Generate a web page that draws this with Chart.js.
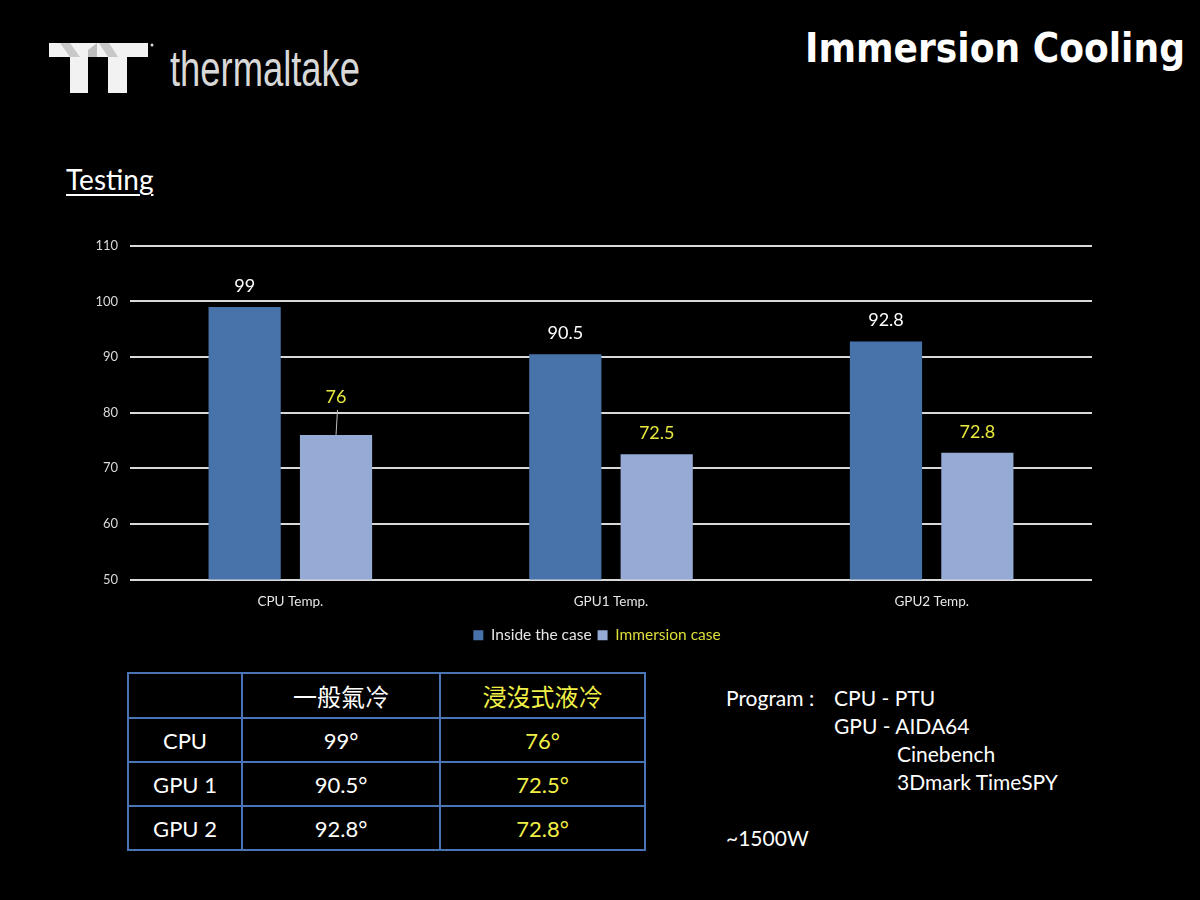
<!DOCTYPE html>
<html>
<head>
<meta charset="utf-8">
<script src="https://cdn.jsdelivr.net/npm/chart.js@4.4.1/dist/chart.umd.min.js"></script>
<style>
  html, body { margin:0; padding:0; background:#000; width:1200px; height:900px; overflow:hidden;
    font-family: Lato, "Noto Sans", sans-serif; color:#fff; }
  .abs { position:absolute; }
  #testing { left:66px; top:162px; font-size:28px; text-decoration:underline; text-underline-offset:4px; text-decoration-thickness:2px; }
  #chartBox { left:0; top:226px; width:1200px; height:427px; }
  table { position:absolute; left:127px; top:672px; border-collapse:collapse; }
  td { border:2px solid #4a74b5; text-align:center; padding:0; font-size:22px; height:42px; }
  td.h { font-family:"Noto Sans CJK TC", sans-serif; font-size:24px; }
  .y { color:#f0f046; }
  .prog { font-size:21px; white-space:nowrap; }
</style>
</head>
<body>
<svg class="abs" style="left:0;top:0" width="1200" height="120">
  <!-- logo -->
  <polygon points="49,43 97,43 97,57 88,57 88,93 70,93 70,57 49,57" fill="#f2f2f2"/>
  <polygon points="60,43 70,43 80,57 70,57" fill="#c8c8c8"/>
  <polygon points="97,43 148,43 148,57 127,57 127,93 108,93 108,57 97,57" fill="#f2f2f2"/>
  <polygon points="99,43 109,43 118,57 108,57" fill="#c8c8c8"/>
  <polygon points="88,57 97,57 97,43 88,50" fill="#bdbdbd"/>
  <circle cx="152" cy="45" r="1.5" fill="#ddd"/>
  <text x="170" y="86" font-family="Liberation Sans Narrow, Liberation Sans" font-size="50" fill="#d8d8d8" textLength="190" lengthAdjust="spacingAndGlyphs">thermaltake</text>
  <!-- title -->
  <text x="805" y="62" font-family="DejaVu Sans" font-weight="bold" font-size="40" fill="#ffffff" textLength="380" lengthAdjust="spacingAndGlyphs">Immersion Cooling</text>
</svg>

<div id="testing" class="abs">Testing</div>

<div id="chartBox" class="abs"><canvas id="c" width="1200" height="427"></canvas></div>

<table id="tbl"></table>

<div class="abs prog" style="left:726px;top:685px">Program :</div>
<div class="abs prog" style="left:834px;top:685px">CPU - PTU</div>
<div class="abs prog" style="left:834px;top:713px">GPU - AIDA64</div>
<div class="abs prog" style="left:897px;top:741px">Cinebench</div>
<div class="abs prog" style="left:897px;top:769px">3Dmark TimeSPY</div>
<div class="abs prog" style="left:726px;top:825px">~1500W</div>

<script>
// ---- data ----
const categories = ['CPU Temp.', 'GPU1 Temp.', 'GPU2 Temp.'];
const seriesNames = ['Inside the case', 'Immersion case'];
const insideCase = [99, 90.5, 92.8];
const immersionCase = [76, 72.5, 72.8];
const yMin = 50, yMax = 110, yStep = 10;
const tableRowNames = ['CPU', 'GPU 1', 'GPU 2'];
const tableHeaders = ['一般氣冷', '浸沒式液冷'];

// ---- styles ----
const barColors = ['#4873aa', '#95aad4'];
const labelColors = ['#ffffff', '#e8e83e'];
const legendColors = ['#e6e6e6', '#dede3a'];

// ---- table ----
(function buildTable(){
  const t = document.getElementById('tbl');
  const widths = [112, 196, 203];
  let html = '<tr>';
  html += '<td style="width:' + widths[0] + 'px;height:43px"></td>';
  html += '<td class="h" style="width:' + widths[1] + 'px">' + tableHeaders[0] + '</td>';
  html += '<td class="h y" style="width:' + widths[2] + 'px">' + tableHeaders[1] + '</td></tr>';
  tableRowNames.forEach((n, i) => {
    html += '<tr><td>' + n + '</td><td>' + insideCase[i] + '°</td><td class="y">' + immersionCase[i] + '°</td></tr>';
  });
  t.innerHTML = html;
})();

// ---- bar value labels ----
const barLabels = {
  id: 'barLabels',
  afterDatasetsDraw(chart, args, opts) {
    const ctx = chart.ctx;
    chart.data.datasets.forEach((ds, di) => {
      const meta = chart.getDatasetMeta(di);
      meta.data.forEach((bar, i) => {
        const raised = opts.raised.some(r => r[0] === di && r[1] === i);
        const y = bar.y - (raised ? opts.raisedOffset : opts.offset);
        ctx.save();
        ctx.font = opts.font;
        ctx.fillStyle = opts.colors[di];
        ctx.textAlign = 'center';
        ctx.textBaseline = 'middle';
        ctx.fillText(String(ds.data[i]), bar.x, y);
        if (raised) {
          ctx.strokeStyle = '#bfbfbf';
          ctx.lineWidth = 1;
          ctx.beginPath();
          ctx.moveTo(bar.x + 1.5, y + 13);
          ctx.lineTo(bar.x, bar.y);
          ctx.stroke();
        }
        ctx.restore();
      });
    });
  }
};

new Chart(document.getElementById('c'), {
  type: 'bar',
  data: {
    labels: categories,
    datasets: [
      { label: seriesNames[0], data: insideCase, backgroundColor: barColors[0], borderWidth: 0,
        categoryPercentage: 0.57, barPercentage: 0.79 },
      { label: seriesNames[1], data: immersionCase, backgroundColor: barColors[1], borderWidth: 0,
        categoryPercentage: 0.57, barPercentage: 0.79 }
    ]
  },
  options: {
    responsive: false,
    animation: false,
    layout: { padding: { left: 0, right: 6, top: 11, bottom: 0 } },
    scales: {
      x: {
        grid: { display: false },
        border: { display: false },
        ticks: { color: '#e6e6e6', font: { family: 'Lato', size: 13.5 }, padding: 6 },
        afterFit(s) { s.height = 42; }
      },
      y: {
        min: yMin, max: yMax,
        grid: { color: '#d9d9d9', lineWidth: 2, drawTicks: false },
        border: { display: false },
        ticks: { stepSize: yStep, color: '#d9d9d9', font: { family: 'Lato', size: 13 }, padding: 12 },
        afterFit(s) { s.width = 130; }
      },
      yPad: {
        position: 'right',
        min: yMin, max: yMax,
        grid: { display: false, drawOnChartArea: false },
        border: { display: false },
        ticks: { display: false },
        afterFit(s) { s.width = 102; }
      }
    },
    plugins: {
      tooltip: { enabled: false },
      legend: {
        position: 'bottom',
        labels: {
          boxWidth: 10, boxHeight: 10, padding: 6,
          font: { family: 'Lato', size: 15.5 },
          color: '#e6e6e6',
          generateLabels(chart) {
            const items = Chart.defaults.plugins.legend.labels.generateLabels(chart);
            items.forEach((it, i) => { it.fontColor = legendColors[i]; it.lineWidth = 0; });
            return items;
          }
        }
      },
      barLabels: {
        font: '18px Lato',
        colors: labelColors,
        offset: 21,
        raisedOffset: 38,
        raised: [[1, 0]]
      }
    }
  },
  plugins: [barLabels]
});
</script>
</body>
</html>
